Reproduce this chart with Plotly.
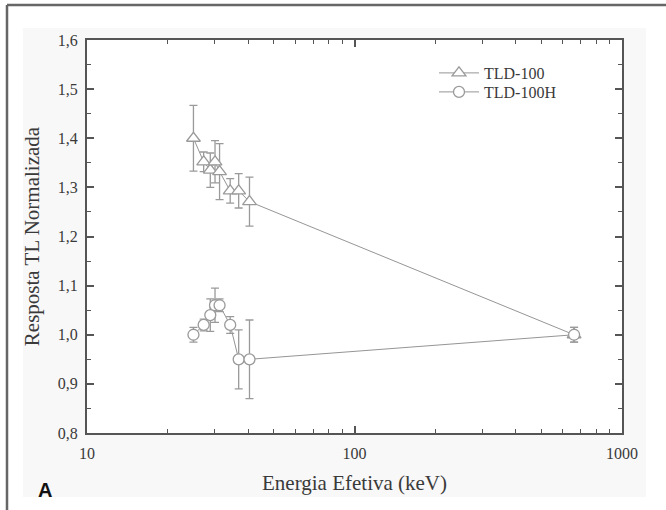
import plotly.graph_objects as go

# ---- data ----
energia_kev = [25.0, 27.3, 28.9, 30.1, 31.3, 34.3, 36.9, 40.5, 662.0]
tld100 = [1.400, 1.352, 1.335, 1.352, 1.332, 1.293, 1.293, 1.271, 1.000]
tld100_err = [0.067, 0.020, 0.035, 0.043, 0.057, 0.025, 0.035, 0.050, 0.015]
tld100h = [1.000, 1.020, 1.040, 1.060, 1.060, 1.020, 0.950, 0.950, 1.000]
tld100h_err = [0.015, 0.012, 0.033, 0.035, 0.013, 0.017, 0.060, 0.080, 0.015]

y_ticks = [0.8, 0.9, 1.0, 1.1, 1.2, 1.3, 1.4, 1.5, 1.6]
y_ticktext = ["0,8", "0,9", "1,0", "1,1", "1,2", "1,3", "1,4", "1,5", "1,6"]
x_ticks = [10, 100, 1000]
x_ticktext = ["10", "100", "1000"]
x_minor = [20, 30, 40, 50, 60, 70, 80, 90, 200, 300, 400, 500, 600, 700, 800, 900]

LINE = "#959595"
MARK = "#9a9a9a"
AXIS = "#555555"
TEXT = "#3a3a3a"
SERIF = "Liberation Serif, Times New Roman, serif"

fig = go.Figure()
fig.add_trace(go.Scatter(
    x=energia_kev, y=tld100, name="TLD-100", mode="lines+markers", legend="legend",
    line=dict(color=LINE, width=1),
    marker=dict(symbol="triangle-up", size=12, color="white", line=dict(width=1.3, color=MARK)),
    error_y=dict(type="data", array=tld100_err, color=MARK, thickness=1.3, width=4),
))
fig.add_trace(go.Scatter(
    x=energia_kev, y=tld100h, name="TLD-100H", mode="lines+markers", legend="legend2",
    line=dict(color=LINE, width=1),
    marker=dict(symbol="circle", size=11, color="white", line=dict(width=1.3, color=MARK)),
    error_y=dict(type="data", array=tld100h_err, color=MARK, thickness=1.3, width=4),
))

W, H = 666, 510
L, R, T, B = 87, 622, 40, 433


def px(xp):
    return (xp - L) / (R - L)


def py(yp):
    return (B - yp) / (B - T)


leg_common = dict(xanchor="left", yanchor="middle", bgcolor="rgba(0,0,0,0)",
                  font=dict(family=SERIF, size=16, color=TEXT), itemwidth=40)

fig.update_layout(
    width=W, height=H,
    margin=dict(l=L, r=W - R, t=T, b=H - B),
    paper_bgcolor="white", plot_bgcolor="white",
    font=dict(family=SERIF, color=TEXT, size=16),
    showlegend=True,
    legend=dict(x=px(434), y=py(73), **leg_common),
    legend2=dict(x=px(434), y=py(92), **leg_common),
    xaxis=dict(
        type="log", range=[1, 3], tickmode="array", tickvals=x_ticks, ticktext=x_ticktext,
        ticks="inside", ticklen=7, tickwidth=1.5, tickcolor=AXIS,
        minor=dict(tickmode="array", tickvals=x_minor, ticks="inside", ticklen=4,
                   tickwidth=1.2, tickcolor=AXIS),
        showline=True, linecolor=AXIS, linewidth=2, mirror="allticks",
        showgrid=False, zeroline=False, ticklabelstandoff=5,
        title=dict(text="Energia Efetiva (keV)", font=dict(family=SERIF, size=21, color=TEXT), standoff=14),
        tickfont=dict(family=SERIF, size=16, color=TEXT),
    ),
    yaxis=dict(
        range=[0.8, 1.6], tickmode="array", tickvals=y_ticks, ticktext=y_ticktext,
        ticks="inside", ticklen=7, tickwidth=1.5, tickcolor=AXIS,
        minor=dict(dtick=0.05, ticks="inside", ticklen=4, tickwidth=1.2, tickcolor=AXIS),
        showline=True, linecolor=AXIS, linewidth=2, mirror="allticks",
        showgrid=False, zeroline=False, ticklabelstandoff=4,
        title=dict(text="Resposta TL Normalizada", font=dict(family=SERIF, size=21, color=TEXT), standoff=12),
        tickfont=dict(family=SERIF, size=16, color=TEXT),
    ),
    shapes=[
        # faint scanned background
        dict(type="rect", xref="paper", yref="paper", layer="below",
             x0=px(23), x1=px(646), y0=py(497), y1=py(28),
             fillcolor="#f8f8f8", line=dict(width=0)),
        dict(type="rect", xref="paper", yref="paper", layer="below",
             x0=0, x1=1, y0=0, y1=1, fillcolor="white", line=dict(width=0)),
        # outer frame
        dict(type="line", xref="paper", yref="paper", x0=px(7), x1=px(7), y0=py(5), y1=py(520),
             line=dict(color="#666666", width=2.5)),
        dict(type="line", xref="paper", yref="paper", x0=px(7), x1=px(680), y0=py(5), y1=py(5),
             line=dict(color="#666666", width=2.5)),
    ],
    annotations=[
        dict(text="<b>A</b>", xref="paper", yref="paper", x=px(36), y=py(490),
             xanchor="left", yanchor="middle", showarrow=False,
             font=dict(family="Liberation Sans, Arial, sans-serif", size=20, color="#111111")),
    ],
)

fig.write_html("out.html")
